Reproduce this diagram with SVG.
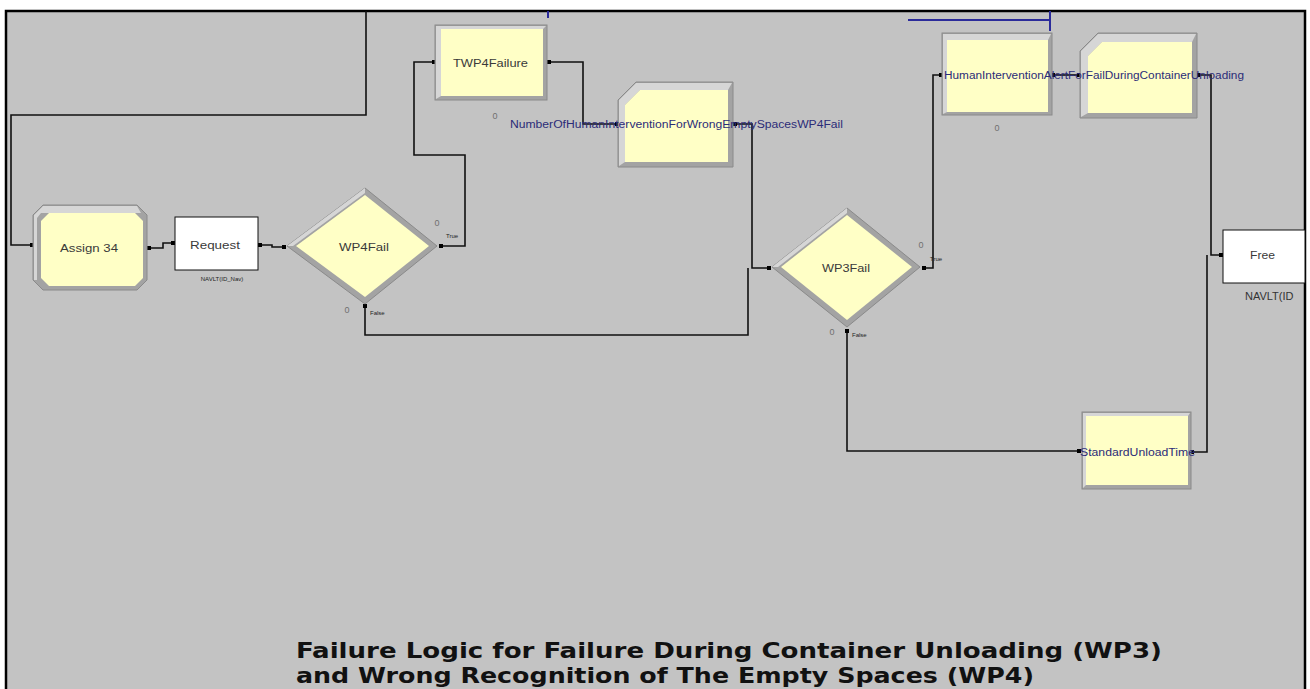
<svg xmlns="http://www.w3.org/2000/svg" width="1310" height="689" viewBox="0 0 1310 689">
<style>
.lbl{font-family:"Liberation Sans",Arial,sans-serif;font-size:11px;fill:#3a3a3a}
.blu{font-family:"Liberation Sans",Arial,sans-serif;font-size:10px;fill:#2c2c78}
.tiny{font-family:"Liberation Sans",Arial,sans-serif;font-size:6px;fill:#222}
.zero{font-family:"Liberation Sans",Arial,sans-serif;font-size:9px;fill:#707070;text-anchor:middle}
.outer{fill:#a3a3a3;stroke:#8a8a8a;stroke-width:1}
.hi{fill:#d6d6d6}
.inner{fill:#ffffc6}
.box{fill:#ffffff;stroke:#111;stroke-width:1}
.con{fill:none;stroke:#111;stroke-width:1.6}
.bl{fill:none;stroke:#2a2a9a;stroke-width:2}
.dot{fill:#000}
.title{font-family:"DejaVu Sans Condensed","DejaVu Sans",Verdana,sans-serif;font-weight:bold;font-size:22px;fill:#111}
</style>
<rect x="0" y="0" width="1310" height="689" fill="#ffffff"/>
<rect x="6" y="11" width="1299" height="680" fill="#c3c3c3" stroke="#000" stroke-width="2.5"/>

<g id="connectors">
<path class="con" d="M366,11 V115 H11 V245 H33"/>
<path class="con" d="M148,248 H163 V243 H175"/>
<path class="con" d="M258,245 H272 V247 H286"/>
<path class="con" d="M441,246 H465 V155 H414 V62 H435"/>
<path class="con" d="M548,62 H583 V124 H618"/>
<path class="con" d="M733,124 H752 V268 H770"/>
<path class="con" d="M365,306 V335 H748 V268"/>
<path class="con" d="M924,268 H933 V75 H942"/>
<path class="con" d="M1052,75 H1080"/>
<path class="con" d="M1197,75 H1211 V255 H1222"/>
<path class="con" d="M847,330 V451 H1080"/>
<path class="con" d="M1191,452 H1207 V255"/>
<path class="bl" d="M548,11 V18"/>
<path class="bl" d="M908,20 H1050 M1050,11 V31"/>
<g class="dot">
<rect x="30" y="243" width="4" height="4"/><rect x="147" y="246" width="4" height="4"/>
<rect x="171" y="241" width="4" height="4"/><rect x="258" y="243" width="4" height="4"/>
<rect x="282" y="245" width="4" height="4"/><rect x="439" y="244" width="4" height="4"/>
<rect x="363" y="304" width="4" height="4"/><rect x="432" y="60" width="4" height="4"/>
<rect x="547" y="60" width="4" height="4"/><rect x="615" y="122" width="4" height="4"/>
<rect x="733" y="122" width="4" height="4"/><rect x="767" y="266" width="4" height="4"/>
<rect x="922" y="266" width="4" height="4"/><rect x="845" y="329" width="4" height="4"/>
<rect x="939" y="73" width="4" height="4"/><rect x="1051" y="73" width="4" height="4"/>
<rect x="1077" y="73" width="4" height="4"/><rect x="1196" y="73" width="4" height="4"/>
<rect x="1219" y="253" width="4" height="4"/><rect x="1077" y="449" width="4" height="4"/>
<rect x="1190" y="450" width="4" height="4"/>
</g>
</g>

<g id="assign34">
<polygon class="outer" points="43,205 137,205 147,215 147,280 137,290 43,290 33,280 33,215"/>
<polygon class="hi" points="43,206 137,206 141,213 41,213 37,218 37,280 34,280 34,215"/>
<polygon class="inner" points="49,213 135,213 143,221 143,278 135,286 49,286 41,278 41,221"/>
<text class="lbl" x="60" y="252" textLength="58" lengthAdjust="spacingAndGlyphs">Assign 34</text>
</g>

<g id="request">
<rect class="box" x="175" y="217" width="83" height="53"/>
<text class="lbl" x="190" y="249" textLength="50" lengthAdjust="spacingAndGlyphs">Request</text>
<text class="tiny" x="222" y="281" text-anchor="middle" fill="#666">NAVLT(ID_Nav)</text>
</g>

<g id="wp4fail">
<polygon class="outer" points="287,246 365,188 437,246 365,304"/>
<polygon class="hi" points="287,246 365,188 365,193 293,246"/>
<polygon class="inner" points="296,246 365,195 429,246 365,297"/>
<text class="lbl" x="339" y="251" textLength="50" lengthAdjust="spacingAndGlyphs">WP4Fail</text>
<text class="zero" x="437" y="226">0</text>
<text class="tiny" x="446" y="238">True</text>
<text class="zero" x="347" y="313">0</text>
<text class="tiny" x="370" y="315">False</text>
</g>

<g id="twp4failure">
<rect class="outer" x="435" y="25" width="112" height="75"/>
<polygon class="hi" points="436,26 546,26 543,29 441,29 441,96 436,99"/>
<rect class="inner" x="441" y="29" width="102" height="67"/>
<text class="lbl" x="453" y="67" textLength="75" lengthAdjust="spacingAndGlyphs">TWP4Failure</text>
<text class="zero" x="495" y="119" fill="#c03030">0</text>
</g>

<g id="record-wp4">
<polygon class="outer" points="636,82 733,82 733,167 618,167 618,100"/>
<polygon class="hi" points="636,83 732,83 728,90 640,90 625,105 625,162 619,166 619,100"/>
<polygon class="inner" points="640,90 728,90 728,162 625,162 625,105"/>
<text class="blu" x="510" y="128" textLength="333" lengthAdjust="spacingAndGlyphs">NumberOfHumanInterventionForWrongEmptySpacesWP4Fail</text>
</g>

<g id="wp3fail">
<polygon class="outer" points="772,267 847,208 920,267 847,327"/>
<polygon class="hi" points="772,267 847,208 847,213 778,267"/>
<polygon class="inner" points="781,267 847,215 912,267 847,320"/>
<text class="lbl" x="822" y="272" textLength="48" lengthAdjust="spacingAndGlyphs">WP3Fail</text>
<text class="zero" x="921" y="248">0</text>
<text class="tiny" x="930" y="261">True</text>
<text class="zero" x="832" y="335">0</text>
<text class="tiny" x="852" y="337">False</text>
</g>

<g id="human-intervention">
<rect class="outer" x="942" y="33" width="110" height="82"/>
<polygon class="hi" points="943,34 1051,34 1048,40 947,40 947,112 943,114"/>
<rect class="inner" x="947" y="40" width="101" height="72"/>
<text class="zero" x="997" y="131">0</text>
</g>

<g id="record-wp3">
<polygon class="outer" points="1098,33 1197,33 1197,118 1080,118 1080,51"/>
<polygon class="hi" points="1098,34 1196,34 1192,42 1102,42 1088,56 1088,113 1081,117 1081,51"/>
<polygon class="inner" points="1102,42 1192,42 1192,113 1088,113 1088,56"/>
<text class="blu" x="944" y="79" textLength="300" lengthAdjust="spacingAndGlyphs">HumanInterventionAlertForFailDuringContainerUnloading</text>
</g>

<g id="free">
<rect class="box" x="1223" y="230" width="82" height="53"/>
<text class="lbl" x="1250" y="259" textLength="25" lengthAdjust="spacingAndGlyphs">Free</text>
<text class="lbl" x="1245" y="300" style="fill:#333">NAVLT(ID</text>
</g>

<g id="standard-unload">
<rect class="outer" x="1082" y="412" width="109" height="77"/>
<polygon class="hi" points="1083,413 1190,413 1188,416 1086,416 1086,485 1083,488"/>
<rect class="inner" x="1086" y="416" width="102" height="69"/>
<text class="blu" x="1080" y="456" textLength="115" lengthAdjust="spacingAndGlyphs">StandardUnloadTime</text>
</g>

<g id="title">
<text class="title" x="296" y="658" textLength="866" lengthAdjust="spacingAndGlyphs">Failure Logic for Failure During Container Unloading (WP3)</text>
<text class="title" x="296" y="683" textLength="738" lengthAdjust="spacingAndGlyphs">and Wrong Recognition of The Empty Spaces (WP4)</text>
</g>
</svg>
